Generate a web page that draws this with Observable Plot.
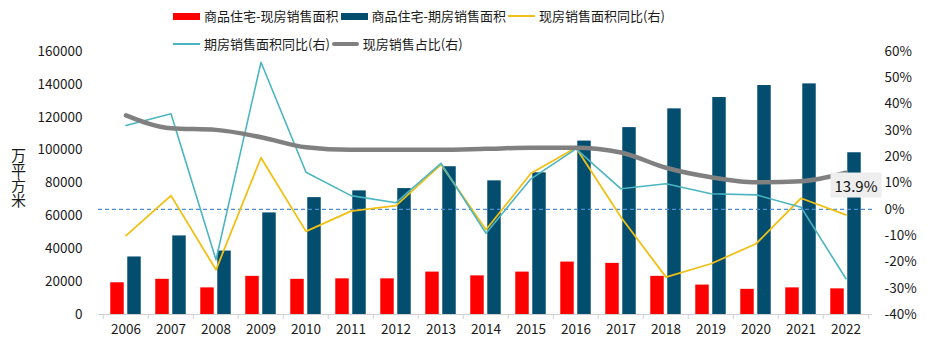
<!DOCTYPE html>
<html>
<head>
<meta charset="utf-8">
<script src="https://cdn.jsdelivr.net/npm/d3@7"></script>
<script src="https://cdn.jsdelivr.net/npm/@observablehq/plot@0.6"></script>
<style>
  body { margin: 0; background: #fff; font-family: "Noto Sans CJK SC", "Noto Sans", sans-serif; }
  #wrap { position: relative; width: 931px; height: 351px; overflow: hidden; }
  #legend { position: absolute; left: 173px; top: 5px; font-size: 13px; color: #1a1a1a; line-height: 20px; }
  .row { display: flex; align-items: center; height: 22px; margin-bottom: 6px; }
  .item { display: flex; align-items: center; margin-right: 2px; }
  .sw { width: 27px; margin-right: 4px; }
  #ylabel { position: absolute; left: 10px; top: 148px; font-size: 15px; color: #1a1a1a;
            writing-mode: vertical-rl; text-orientation: upright; line-height: 16px; }
</style>
</head>
<body>
<div id="wrap">
  <div id="chart"></div>
  <div id="legend"></div>
  <div id="ylabel"></div>
</div>
<script>
// ---- data ----
const years = ["2006","2007","2008","2009","2010","2011","2012","2013","2014","2015","2016","2017","2018","2019","2020","2021","2022"];
const spotArea = [19300, 21400, 16200, 23200, 21400, 21700, 21700, 25800, 23500, 25800, 31900, 31100, 23200, 17900, 15300, 16200, 15600];
const presaleArea = [35000, 47800, 38600, 61800, 71100, 75200, 76600, 89900, 81300, 86200, 105500, 113700, 125100, 132000, 139300, 140300, 98400];
const spotYoY = [-10.0, 5.2, -23.0, 19.6, -8.4, -0.7, 1.4, 17.0, -7.8, 13.7, 23.4, -3.0, -25.8, -20.7, -13.1, 4.2, -2.1];
const presaleYoY = [31.9, 36.3, -19.2, 55.9, 14.1, 5.2, 2.5, 17.5, -9.1, 11.6, 23.0, 7.8, 9.7, 5.9, 5.5, 0.8, -26.4];
const spotShare = [35.7, 30.8, 30.2, 27.4, 23.6, 22.6, 22.6, 22.6, 23.0, 23.4, 23.4, 21.6, 15.8, 12.2, 10.3, 10.7, 13.9];
const leftTicks = [0, 20000, 40000, 60000, 80000, 100000, 120000, 140000, 160000];
const rightTicks = [-40, -30, -20, -10, 0, 10, 20, 30, 40, 50, 60];
const seriesNames = ["商品住宅-现房销售面积", "商品住宅-期房销售面积", "现房销售面积同比(右)", "期房销售面积同比(右)", "现房销售占比(右)"];
const yAxisLabel = "万平方米";

const colors = { spot: "#ff0000", presale: "#034e6f", spotYoY: "#f2c014", presaleYoY: "#4bb5c1", share: "#808080", zero: "#4f8fd0" };

// ---- build table ----
const data = years.map((year, i) => ({
  year, spot: spotArea[i], presale: presaleArea[i],
  spotYoY: spotYoY[i], presaleYoY: presaleYoY[i], share: spotShare[i]
}));
// right axis (-40%..60%) mapped onto the left axis domain (0..160000)
const rMin = -40, rMax = 60, lMax = 160000;
const toLeft = p => (p - rMin) / (rMax - rMin) * lMax;

const W = 931, H = 351, mL = 98, mR = 59, mT = 51, mB = 37;
const bw = (W - mL - mR) / years.length;
const barW = 14, gap = 3;
const inset = (bw - barW) / 2;
const off = (barW + gap) / 2;
const tickLen = 3000;

const plot = Plot.plot({
  width: W, height: H,
  marginLeft: mL, marginRight: mR, marginTop: mT, marginBottom: mB,
  style: { fontFamily: "'Noto Sans CJK SC', 'Noto Sans', sans-serif", fontSize: "13.5px", color: "#1a1a1a", background: "transparent" },
  x: { type: "band", domain: years, padding: 0, tickSize: 0, tickPadding: 10, label: null },
  y: { domain: [0, lMax], ticks: leftTicks, tickSize: 0, tickPadding: 16, tickFormat: d => String(d), label: null },
  marks: [
    Plot.ruleY([0], { stroke: "#d0d0d0", strokeWidth: 1 }),
    Plot.ruleX(years, { x: d => d, y1: 0, y2: -tickLen, dx: -bw / 2, stroke: "#d0d0d0" }),
    Plot.ruleX(years.slice(-1), { x: d => d, y1: 0, y2: -tickLen, dx: bw / 2, stroke: "#d0d0d0" }),
    Plot.barY(data, { x: "year", y: "spot", fill: colors.spot, insetLeft: inset, insetRight: inset, dx: -off }),
    Plot.barY(data, { x: "year", y: "presale", fill: colors.presale, insetLeft: inset, insetRight: inset, dx: off }),
    Plot.ruleY([toLeft(0)], { stroke: colors.zero, strokeWidth: 1.3, strokeDasharray: "4,3" }),
    Plot.line(data, { x: "year", y: d => toLeft(d.spotYoY), stroke: colors.spotYoY, strokeWidth: 1.8 }),
    Plot.line(data, { x: "year", y: d => toLeft(d.presaleYoY), stroke: colors.presaleYoY, strokeWidth: 1.6 }),
    Plot.line(data, { x: "year", y: d => toLeft(d.share), stroke: colors.share, strokeWidth: 4.5, curve: "monotone-x" }),
    Plot.text(rightTicks, { y: d => toLeft(d), text: d => d + "%", frameAnchor: "right", textAnchor: "start", dx: 12, fontSize: 13.5, fill: "#1a1a1a" }),
    Plot.text(data.slice(-1), { x: "year", y: d => toLeft(d.share), text: d => d.share.toFixed(1) + "%", dx: 10, dy: 14, fontSize: 15, fill: "#111", className: "endlabel" })
  ]
});
document.getElementById("chart").appendChild(plot);

// grey box behind end label, sized from the rendered text
d3.select(plot).selectAll("g.endlabel text").each(function () {
  const bb = this.getBBox();
  const r = d3.select(this.parentNode).insert("rect", () => this)
    .attr("x", bb.x - 4).attr("y", bb.y - 2)
    .attr("width", bb.width + 8).attr("height", bb.height + 4)
    .attr("fill", "#eeeeee");
  const t = this.getAttribute("transform");
  if (t) r.attr("transform", t);
});

// ---- legend ----
const legendRows = [
  [ {name: seriesNames[0], kind: "rect", color: colors.spot},
    {name: seriesNames[1], kind: "rect", color: colors.presale},
    {name: seriesNames[2], kind: "line", color: colors.spotYoY, w: 2} ],
  [ {name: seriesNames[3], kind: "line", color: colors.presaleYoY, w: 1.6},
    {name: seriesNames[4], kind: "line", color: colors.share, w: 4.5} ]
];
const legend = d3.select("#legend");
for (const row of legendRows) {
  const r = legend.append("div").attr("class", "row");
  for (const it of row) {
    const item = r.append("div").attr("class", "item");
    const sw = item.append("div").attr("class", "sw");
    if (it.kind === "rect") sw.style("height", "7px").style("background", it.color);
    else sw.style("height", it.w + "px").style("background", it.color).style("border-radius", it.w > 3 ? "3px" : "0");
    item.append("span").text(it.name);
  }
}
d3.select("#ylabel").text(yAxisLabel);
</script>
</body>
</html>
